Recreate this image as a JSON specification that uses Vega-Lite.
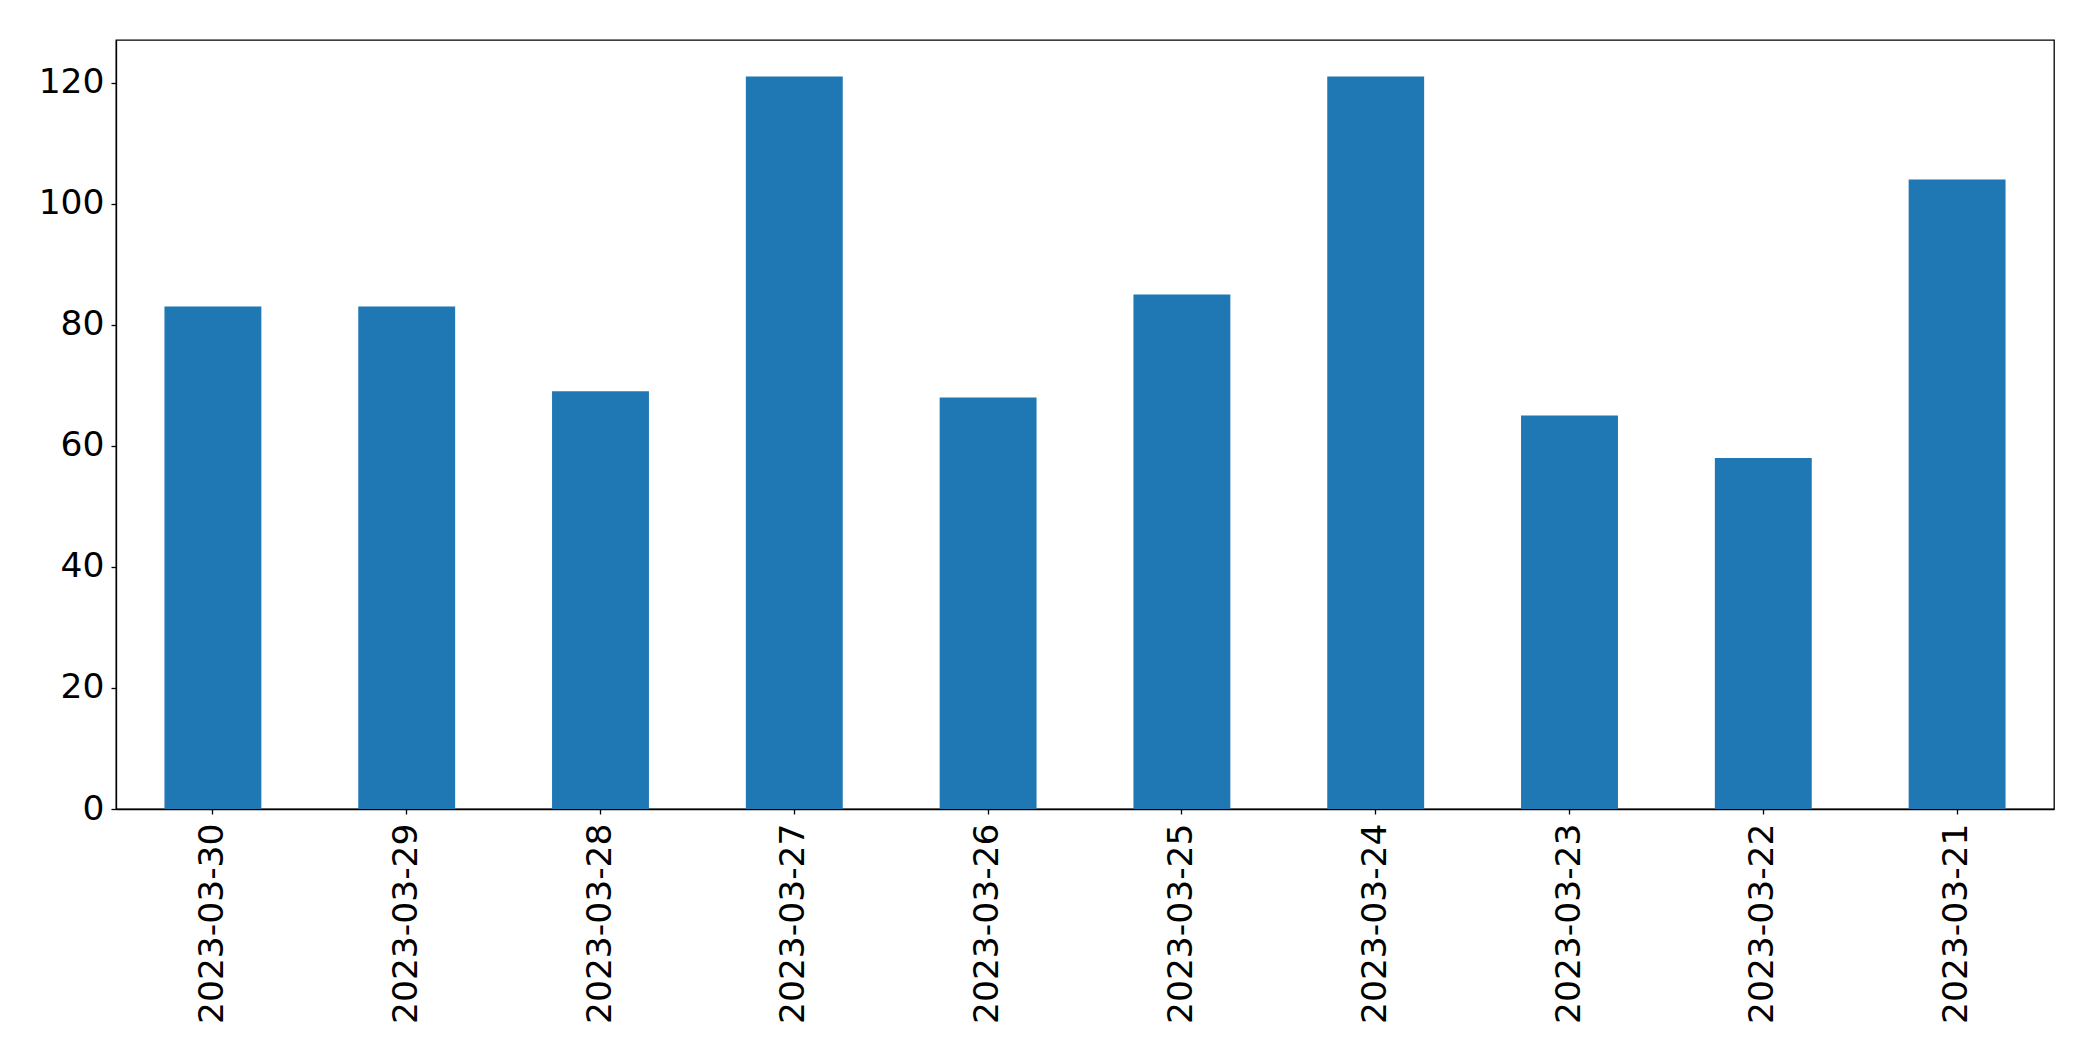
{
  "$schema": "https://vega.github.io/schema/vega-lite/v6.json",
  "width": 1938,
  "height": 769,
  "autosize": {"type": "none"},
  "padding": {"left": 116, "top": 40, "right": 39, "bottom": 252},
  "background": "white",
  "config": {
    "view": {"stroke": "black", "strokeWidth": 1.3},
    "font": "DejaVu Sans",
    "axis": {
      "labelFont": "DejaVu Sans",
      "labelColor": "black",
      "labelFontSize": 34.5,
      "labelLimit": 0,
      "domainColor": "black",
      "domainWidth": 1.3,
      "tickColor": "black",
      "tickWidth": 1.3,
      "tickSize": 5,
      "grid": false,
      "title": null
    }
  },
  "data": {
    "values": [
      {"date": "2023-03-30", "count": 83},
      {"date": "2023-03-29", "count": 83},
      {"date": "2023-03-28", "count": 69},
      {"date": "2023-03-27", "count": 121},
      {"date": "2023-03-26", "count": 68},
      {"date": "2023-03-25", "count": 85},
      {"date": "2023-03-24", "count": 121},
      {"date": "2023-03-23", "count": 65},
      {"date": "2023-03-22", "count": 58},
      {"date": "2023-03-21", "count": 104}
    ]
  },
  "mark": {"type": "bar", "color": "#1f77b4"},
  "encoding": {
    "x": {
      "field": "date",
      "type": "nominal",
      "sort": null,
      "scale": {"paddingInner": 0.5, "paddingOuter": 0.25},
      "axis": {"labelAngle": 270, "labelAlign": "right", "labelBaseline": "middle", "labelPadding": 9, "title": null}
    },
    "y": {
      "field": "count",
      "type": "quantitative",
      "scale": {"domain": [0, 127.05], "nice": false},
      "axis": {"values": [0, 20, 40, 60, 80, 100, 120], "labelPadding": 7, "title": null}
    }
  }
}
